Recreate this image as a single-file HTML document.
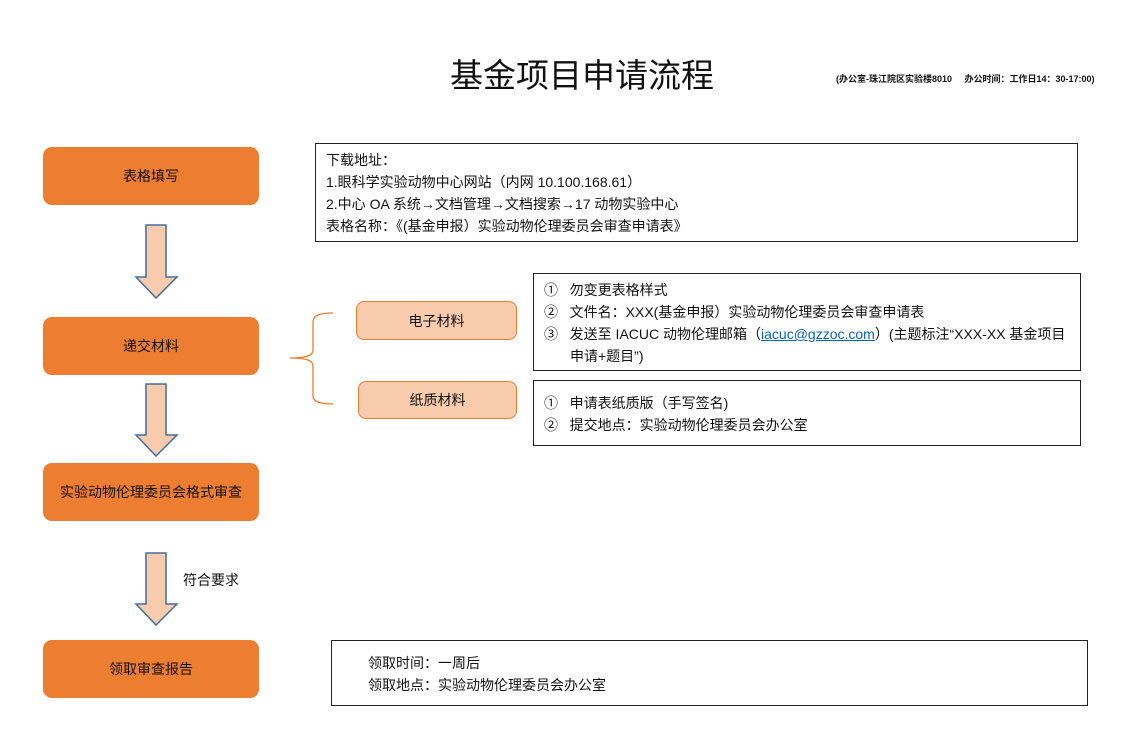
<!DOCTYPE html>
<html><head><meta charset="utf-8"><style>
body{margin:0;background:#fff;width:1128px;height:754px;position:relative;overflow:hidden;font-family:"Liberation Sans","Noto Sans CJK SC",sans-serif;color:#111}
.a{position:absolute}
.ob{position:absolute;left:43px;width:216px;background:#ED7D31;border-radius:9px;display:flex;align-items:center;justify-content:center;font-size:14px;color:#111}
.pb{position:absolute;background:#F8CBAD;border:1.5px solid #ED7D31;border-radius:8px;display:flex;align-items:center;justify-content:center;font-size:14px;box-sizing:border-box}
.bx{position:absolute;border:1.5px solid #222;box-sizing:border-box;font-size:14px;line-height:22px}
</style></head><body>
<div class="a" style="left:450px;top:49px;font-size:33px">基金项目申请流程</div>
<div class="a" style="left:836px;top:72px;font-size:9px;font-weight:bold">(办公室-珠江院区实验楼8010&nbsp;&nbsp;&nbsp;&nbsp;&nbsp;办公时间：工作日14：30-17:00)</div>

<div class="ob" style="top:147px;height:58px">表格填写</div>
<div class="ob" style="top:317px;height:58px">递交材料</div>
<div class="ob" style="top:463px;height:58px">实验动物伦理委员会格式审查</div>
<div class="ob" style="top:640px;height:58px">领取审查报告</div>

<svg class="a" style="left:0;top:0" width="1128" height="754">
<g fill="#F8CBAD" stroke="#41719C" stroke-width="1.5">
<path d="M146 225H166V277H177L156 298L136 277H146Z"/>
<path d="M146 384H166V435H177L156 456L136 435H146Z"/>
<path d="M146 553H166V604H177L156 625L136 604H146Z"/>
</g>
<path d="M333 313C318 313 313 316 313 322V350C313 355 308 358 290 358C308 358 313 361 313 366V396C313 401 318 404 333 404" fill="none" stroke="#ED7D31" stroke-width="1.3"/>
</svg>

<div class="a" style="left:183px;top:570px;font-size:14px">符合要求</div>

<div class="bx" style="left:315px;top:143px;width:763px;height:99px;padding:5px 0 0 10px">下载地址：<br>1.眼科学实验动物中心网站（内网 10.100.168.61）<br>2.中心 OA 系统→文档管理→文档搜索→17 动物实验中心<br>表格名称：《(基金申报）实验动物伦理委员会审查申请表》</div>

<div class="pb" style="left:356px;top:301px;width:161px;height:39px">电子材料</div>
<div class="pb" style="left:358px;top:381px;width:159px;height:38px">纸质材料</div>

<div class="bx" style="left:533px;top:273px;width:548px;height:98px;padding:5px 0 0 10px">①&nbsp;&nbsp;&nbsp;勿变更表格样式<br>②&nbsp;&nbsp;&nbsp;文件名：XXX(基金申报）实验动物伦理委员会审查申请表<br>③&nbsp;&nbsp;&nbsp;发送至 IACUC 动物伦理邮箱（<span style="color:#0563C1;text-decoration:underline">iacuc@gzzoc.com</span>）(主题标注“XXX-XX 基金项目<br><span style="padding-left:26px">申请+题目”)</span></div>
<div class="bx" style="left:533px;top:380px;width:548px;height:66px;padding:11px 0 0 10px">①&nbsp;&nbsp;&nbsp;申请表纸质版（手写签名)<br>②&nbsp;&nbsp;&nbsp;提交地点：实验动物伦理委员会办公室</div>

<div class="bx" style="left:331px;top:640px;width:757px;height:66px;padding:11px 0 0 36px">领取时间：一周后<br>领取地点：实验动物伦理委员会办公室</div>
</body></html>
